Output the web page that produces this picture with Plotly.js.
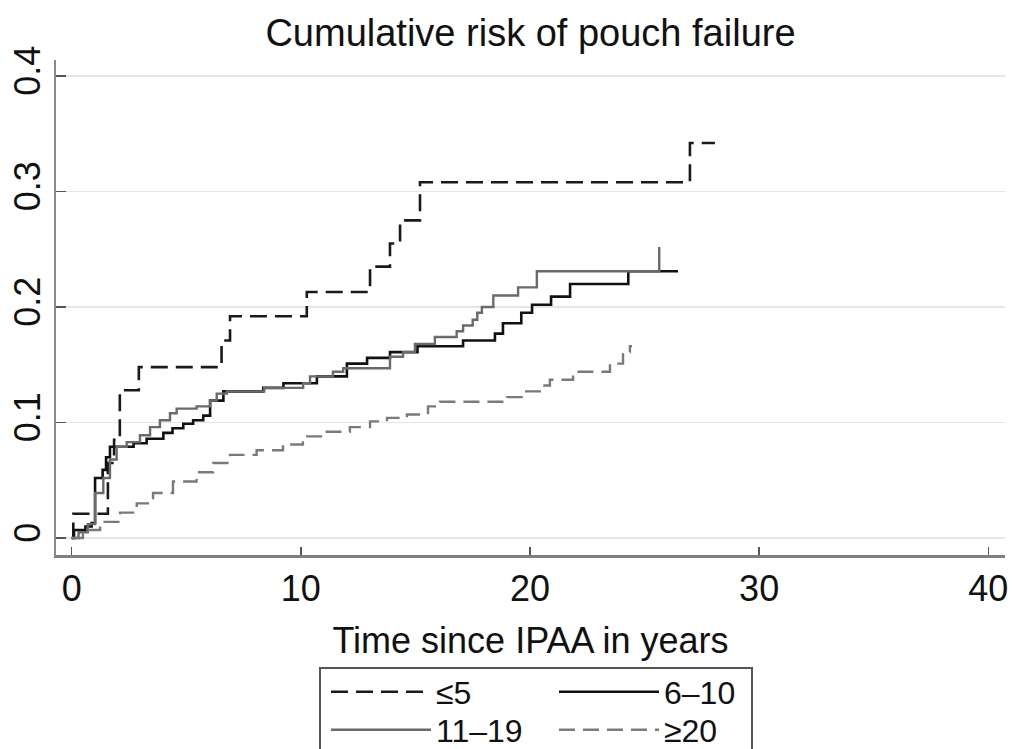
<!DOCTYPE html>
<html><head><meta charset="utf-8">
<script src="https://cdn.plot.ly/plotly-3.0.1.min.js"></script>
<style>html,body{margin:0;padding:0;background:#fff}</style>
</head><body><div id="chart" style="width:1012px;height:749px"></div>
<script>
// Group labels (age at diagnosis)
const groupNames = ['≤5', '6–10', '11–19', '≥20'];

// ≤5 : step times (years) and cumulative risk after each step
const t_le5 = [0, 0.07, 1.58, 1.85, 2.10, 2.93, 6.54, 6.91, 10.26, 13.02, 13.89, 14.33, 15.20, 26.98, 28.07];
const v_le5 = [0, 0.021, 0.065, 0.085, 0.128, 0.148, 0.171, 0.192, 0.213, 0.235, 0.255, 0.275, 0.308, 0.342, 0.342];

// 6–10
const t_6to10 = [0, 0.10, 0.60, 0.87, 1.02, 1.35, 1.50, 1.67, 2.70, 3.27, 4.00, 4.40, 4.87, 5.30, 5.74, 6.04, 6.62, 8.36, 9.24, 10.70, 12.01, 12.89, 13.89, 15.09, 17.08, 18.47, 18.82, 19.62, 20.09, 20.92, 21.75, 24.29, 26.46];
const v_6to10 = [0, 0.007, 0.010, 0.013, 0.052, 0.059, 0.070, 0.079, 0.082, 0.086, 0.091, 0.095, 0.099, 0.102, 0.106, 0.119, 0.127, 0.130, 0.134, 0.140, 0.151, 0.156, 0.161, 0.166, 0.171, 0.177, 0.186, 0.195, 0.202, 0.209, 0.220, 0.231, 0.231];

// 11–19
const t_11to19 = [0, 0.30, 0.70, 1.02, 1.38, 1.67, 1.96, 2.40, 2.98, 3.42, 3.85, 4.29, 4.58, 5.45, 6.04, 6.33, 6.77, 8.40, 10.10, 10.40, 11.40, 11.85, 13.89, 14.46, 14.98, 15.85, 16.80, 17.08, 17.50, 17.70, 17.90, 18.40, 19.48, 20.30, 25.64];
const v_11to19 = [0, 0.005, 0.012, 0.039, 0.052, 0.068, 0.079, 0.083, 0.089, 0.096, 0.102, 0.108, 0.112, 0.114, 0.119, 0.125, 0.127, 0.130, 0.134, 0.140, 0.144, 0.147, 0.157, 0.161, 0.168, 0.174, 0.179, 0.184, 0.189, 0.195, 0.200, 0.210, 0.217, 0.231, 0.252];

// ≥20
const t_ge20 = [0, 0.49, 1.24, 2.11, 2.84, 3.55, 4.42, 5.45, 6.17, 6.91, 8.07, 9.22, 10.09, 11.13, 12.14, 13.02, 13.76, 14.63, 15.55, 16.07, 19.00, 19.70, 20.52, 20.87, 21.88, 23.49, 24.06, 24.36, 24.45];
const v_ge20 = [0, 0.007, 0.014, 0.022, 0.030, 0.039, 0.049, 0.057, 0.065, 0.072, 0.076, 0.081, 0.088, 0.092, 0.096, 0.101, 0.104, 0.107, 0.114, 0.118, 0.122, 0.127, 0.132, 0.137, 0.144, 0.151, 0.161, 0.166, 0.166];

const xTicks = [0, 10, 20, 30, 40];
const yTicks = [0, 0.1, 0.2, 0.3, 0.4];
const yTickText = ['0', '0.1', '0.2', '0.3', '0.4'];

const W = 1012, H = 749, ML = 56, MR = 7, MT = 60, MB = 194;
const PW = W - ML - MR, PH = H - MT - MB;
const px2x = p => (p - ML) / PW;
const py2y = p => (H - MB - p) / PH;

const FONT = 'Liberation Sans, Arial, Helvetica, sans-serif';

const traces = [
  {x: t_le5, y: v_le5, name: groupNames[0], legend: 'legend',
   line: {color: '#1a1a1a', width: 2.6, dash: '17px,8px', shape: 'hv'}},
  {x: t_6to10, y: v_6to10, name: groupNames[1], legend: 'legend',
   line: {color: '#111111', width: 2.6, dash: 'solid', shape: 'hv'}},
  {x: t_11to19, y: v_11to19, name: groupNames[2], legend: 'legend2',
   line: {color: '#6a6a6a', width: 2.4, dash: 'solid', shape: 'hv'}},
  {x: t_ge20, y: v_ge20, name: groupNames[3], legend: 'legend2',
   line: {color: '#7a7a7a', width: 2.4, dash: '16px,8px', shape: 'hv'}}
].map(tr => Object.assign({type: 'scatter', mode: 'lines', hoverinfo: 'skip'}, tr));

const legendCommon = {
  orientation: 'h', xanchor: 'left', yanchor: 'middle',
  itemwidth: 100, entrywidth: 113, entrywidthmode: 'pixels',
  font: {family: FONT, size: 32, color: '#111'},
  bgcolor: 'rgba(0,0,0,0)', borderwidth: 0, traceorder: 'normal'
};

const layout = {
  width: W, height: H,
  margin: {l: ML, r: MR, t: MT, b: MB, autoexpand: false},
  paper_bgcolor: '#fff', plot_bgcolor: '#fff',
  font: {family: FONT, size: 36, color: '#111'},
  title: {text: 'Cumulative risk of pouch failure', font: {family: FONT, size: 38, color: '#111'},
          x: 0.5, xref: 'paper', xanchor: 'center', y: 1 - 33 / H, yref: 'container', yanchor: 'middle'},
  showlegend: true,
  legend: Object.assign({}, legendCommon, {x: px2x(326), y: py2y(692)}),
  legend2: Object.assign({}, legendCommon, {x: px2x(326), y: py2y(730)}),
  xaxis: {
    range: [-0.685, 40.73], tickmode: 'array', tickvals: xTicks, ticktext: xTicks.map(String),
    ticks: 'inside', ticklen: 8, tickwidth: 1.5, tickcolor: '#555',
    showline: true, linecolor: '#7f7f7f', linewidth: 3, showgrid: false, zeroline: false,
    tickfont: {family: FONT, size: 36, color: '#111'},
    title: {text: 'Time since IPAA in years', font: {family: FONT, size: 36, color: '#111'}, standoff: 20},
    fixedrange: true
  },
  yaxis: {
    range: [-0.0147, 0.4139], tickmode: 'array', tickvals: yTicks, ticktext: yTickText,
    ticks: 'inside', ticklen: 10, tickwidth: 1.5, tickcolor: '#555', tickangle: -90,
    showline: true, linecolor: '#8a8a8a', linewidth: 2,
    showgrid: true, gridcolor: '#e6e6e6', gridwidth: 1.5, zeroline: false,
    tickfont: {family: FONT, size: 36, color: '#111'},
    fixedrange: true
  },
  shapes: [{type: 'rect', xref: 'paper', yref: 'paper',
            x0: px2x(320), x1: px2x(752), y0: py2y(668), y1: py2y(770),
            line: {color: '#555', width: 2}, fillcolor: 'rgba(0,0,0,0)'}]
};

Plotly.newPlot('chart', traces, layout, {displayModeBar: false, staticPlot: true});
</script></body></html>
